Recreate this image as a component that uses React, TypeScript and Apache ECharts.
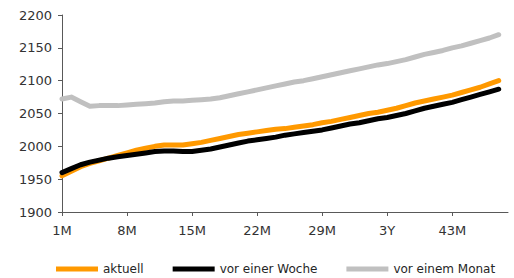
import React, { useEffect, useRef } from "react";
import * as echarts from "echarts";

const categories: string[] = [
  "1M", "2M", "3M", "4M", "5M", "6M", "7M", "8M", "9M", "10M", "11M", "1Y",
  "13M", "14M", "15M", "16M", "17M", "18M", "19M", "20M", "21M", "22M", "23M", "2Y",
  "25M", "26M", "27M", "28M", "29M", "30M", "31M", "32M", "33M", "34M", "35M", "3Y",
  "37M", "38M", "39M", "40M", "41M", "42M", "43M", "44M", "45M", "46M", "47M", "4Y",
  "49M",
];

const aktuell: number[] = [
  1955, 1962, 1969, 1974, 1978, 1982, 1986, 1990, 1994, 1997, 2000, 2002,
  2002, 2002, 2004, 2006, 2009, 2012, 2015, 2018, 2020, 2022, 2024, 2026,
  2027, 2029, 2031, 2033, 2036, 2038, 2041, 2044, 2047, 2050, 2052, 2055,
  2058, 2062, 2066, 2069, 2072, 2075, 2078, 2082, 2086, 2090, 2095, 2100,
];

const vorEinerWoche: number[] = [
  1960, 1966, 1972, 1976, 1979, 1982, 1984, 1986, 1988, 1990, 1992, 1993,
  1993, 1992, 1992, 1994, 1996, 1999, 2002, 2005, 2008, 2010, 2012, 2014,
  2017, 2019, 2021, 2023, 2025, 2028, 2031, 2034, 2036, 2039, 2042, 2044,
  2047, 2050, 2054, 2058, 2061, 2064, 2067, 2071, 2075, 2079, 2083, 2087,
];

const vorEinemMonat: number[] = [
  2072, 2075, 2068, 2061, 2062, 2062, 2062, 2063, 2064, 2065, 2066, 2068,
  2069, 2069, 2070, 2071, 2072, 2074, 2077, 2080, 2083, 2086, 2089, 2092,
  2095, 2098, 2100, 2103, 2106, 2109, 2112, 2115, 2118, 2121, 2124, 2126,
  2129, 2132, 2136, 2140, 2143, 2146, 2150, 2153, 2157, 2161, 2165, 2170,
];

const seriesNames = ["aktuell", "vor einer Woche", "vor einem Monat"];
const seriesColors = ["#FF9900", "#000000", "#C0C0C0"];

export default function App() {
  const ref = useRef<HTMLDivElement>(null);
  useEffect(() => {
    document.body.style.margin = "0";
    if (!ref.current) return;
    const chart = echarts.init(ref.current, undefined, { renderer: "svg" });
    const font = "DejaVu Sans";
    const axisColor = "#595959";
    const datasets = [aktuell, vorEinerWoche, vorEinemMonat];
    chart.setOption({
      animation: false,
      backgroundColor: "#ffffff",
      grid: { left: 62, right: 6, top: 15, bottom: 66, containLabel: false },
      legend: {
        left: 51,
        top: 258,
        itemWidth: 42,
        itemHeight: 5,
        itemGap: 29,
        icon: "rect",
        textStyle: { fontFamily: font, fontSize: 12, color: "#262626" },
        data: seriesNames,
      },
      xAxis: {
        type: "category",
        data: categories,
        boundaryGap: false,
        axisLine: { lineStyle: { color: axisColor, width: 1 } },
        axisTick: { show: true, interval: 6, length: 4, lineStyle: { color: axisColor } },
        axisLabel: {
          interval: 6,
          margin: 12,
          fontFamily: font,
          fontSize: 13,
          color: "#333333",
        },
        splitLine: { show: false },
      },
      yAxis: {
        type: "value",
        min: 1900,
        max: 2200,
        interval: 50,
        axisLine: { show: true, lineStyle: { color: axisColor, width: 1 } },
        axisTick: { show: true, length: 4, lineStyle: { color: axisColor } },
        axisLabel: {
          margin: 10,
          fontFamily: font,
          fontSize: 13,
          color: "#333333",
          formatter: (v: number) => String(v),
        },
        splitLine: { show: false },
      },
      series: seriesNames.map((name, i) => ({
        name,
        type: "line",
        data: datasets[i],
        showSymbol: false,
        symbol: "none",
        smooth: false,
        color: seriesColors[i],
        lineStyle: { color: seriesColors[i], width: 5, cap: "round", join: "round" },
        z: 2,
      })),
    });
    return () => chart.dispose();
  }, []);
  return <div ref={ref} style={{ width: 514, height: 278 }} />;
}
